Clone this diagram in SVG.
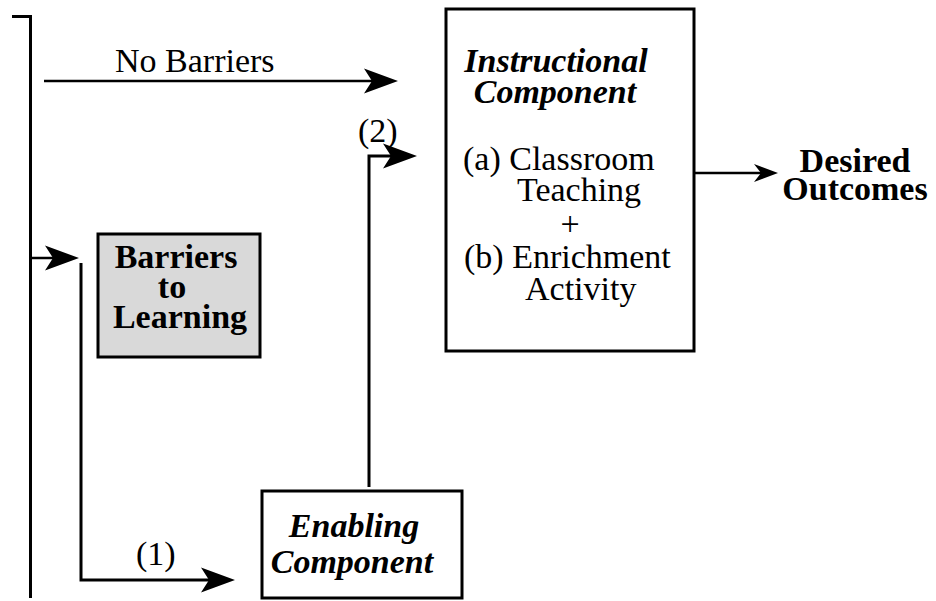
<svg xmlns="http://www.w3.org/2000/svg" width="936" height="601" viewBox="0 0 936 601">
<style>
text{font-family:"Liberation Serif","Times New Roman",serif;font-size:34px;fill:#000}
.b{font-weight:bold}
.bi{font-weight:bold;font-style:italic}
.box{fill:#fff;stroke:#000;stroke-width:3}
.gray{fill:#d9d9d9}
.ln{fill:none;stroke:#000;stroke-width:2.5}
.thick{stroke-width:3}
</style>
<defs>
<marker id="ah" viewBox="-36 -14 37 28" markerWidth="37" markerHeight="28" refX="-25" refY="0" orient="auto" markerUnits="userSpaceOnUse">
<path d="M0,0 L-34,-12.5 L-26,0 L-34,12.5 Z" fill="#000"/>
</marker>
<marker id="ahs" viewBox="-25 -10 26 20" markerWidth="26" markerHeight="20" refX="-15" refY="0" orient="auto" markerUnits="userSpaceOnUse">
<path d="M0,0 L-24,-9 L-17,0 L-24,9 Z" fill="#000"/>
</marker>
</defs>
<g id="connectors">
<path class="ln thick" d="M12,16.5 H30.5 V598"/>
<path class="ln" d="M44,81 H373" marker-end="url(#ah)"/>
<path class="ln thick" d="M369,487 V156 H392" marker-end="url(#ah)"/>
<path class="ln" d="M30,258 H54" marker-end="url(#ah)"/>
<path class="ln thick" d="M81,263 V580 H210" marker-end="url(#ah)"/>
<path class="ln" d="M694,173 H763" marker-end="url(#ahs)"/>
<text x="115" y="72">No Barriers</text>
<text x="358" y="142">(2)</text>
<text x="136" y="565">(1)</text>
</g>
<g id="instructional">
<rect class="box" x="446" y="9" width="248" height="342"/>
<text class="bi" x="556" y="72" text-anchor="middle">Instructional</text>
<text class="bi" x="555" y="103" text-anchor="middle">Component</text>
<text x="463" y="170">(a) Classroom</text>
<text x="517" y="201">Teaching</text>
<text x="570" y="235" text-anchor="middle">+</text>
<text x="464" y="268">(b) Enrichment</text>
<text x="525" y="300">Activity</text>
</g>
<g id="barriers">
<rect class="box gray" x="98" y="234" width="162" height="123"/>
<text class="b" x="176" y="268" text-anchor="middle">Barriers</text>
<text class="b" x="172" y="298" text-anchor="middle">to</text>
<text class="b" x="180" y="328" text-anchor="middle">Learning</text>
</g>
<g id="enabling">
<rect class="box" x="262" y="491" width="200" height="107"/>
<text class="bi" x="354" y="537" text-anchor="middle">Enabling</text>
<text class="bi" x="352" y="573" text-anchor="middle">Component</text>
</g>
<g id="outcomes">
<text class="b" x="855" y="172" text-anchor="middle">Desired</text>
<text class="b" x="855" y="200" text-anchor="middle">Outcomes</text>
</g>
</svg>
